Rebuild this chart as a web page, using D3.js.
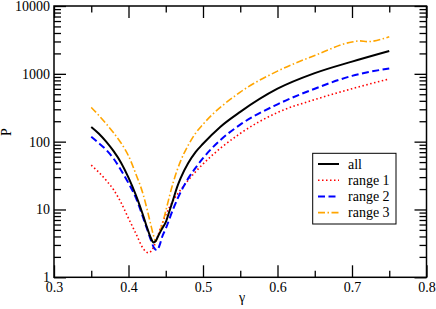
<!DOCTYPE html>
<html>
<head>
<meta charset="utf-8">
<script src="https://cdn.jsdelivr.net/npm/d3@7"></script>
<style>
  body { margin: 0; background: #fff; }
  svg text { font-family: "Liberation Serif", "DejaVu Serif", "Times New Roman", serif; }
</style>
</head>
<body>
<div id="canvas"></div>
<script>
// values
const gammaAll = [0.35, 0.36, 0.37, 0.38, 0.39, 0.40, 0.41, 0.42, 0.425, 0.43, 0.4335, 0.437, 0.44, 0.445, 0.45, 0.455, 0.46, 0.465, 0.47, 0.48, 0.49, 0.5, 0.5231, 0.55, 0.6, 0.65, 0.7, 0.75];
const pAll =     [165, 132, 100, 72.4, 49, 29.5, 16.2, 7.94, 5.37, 3.8, 3.25, 3.5, 4.1, 5.2, 6.5, 9.5, 14, 21, 29, 48, 70, 93, 165, 275, 603, 1023, 1514, 2170];

const gammaR1 = [0.35, 0.36, 0.37, 0.38, 0.39, 0.40, 0.41, 0.42, 0.4267, 0.435, 0.44, 0.445, 0.45, 0.46, 0.47, 0.48, 0.49, 0.5, 0.55, 0.6, 0.65, 0.7, 0.75];
const pR1 =     [45, 35.5, 26.9, 19.5, 12.6, 7.4, 4.4, 2.63, 2.29, 3.0, 4.3, 6.1, 8.3, 13.5, 19.5, 26.9, 36, 46.8, 132, 269, 417, 603, 841];

const gammaR2 = [0.35, 0.36, 0.37, 0.38, 0.39, 0.40, 0.41, 0.42, 0.425, 0.43, 0.434, 0.438, 0.4425, 0.445, 0.45, 0.46, 0.47, 0.48, 0.49, 0.5, 0.5231, 0.55, 0.6, 0.65, 0.7, 0.75];
const pR2 =     [118, 95.5, 75.9, 56.2, 38, 24.5, 14.8, 7.4, 5.13, 3.55, 2.75, 2.51, 3.14, 3.9, 5.2, 10.2, 18, 28.5, 41, 57, 105, 178, 355, 603, 933, 1200];

const gammaR3 = [0.35, 0.36, 0.37, 0.38, 0.39, 0.40, 0.41, 0.42, 0.425, 0.43, 0.4335, 0.4365, 0.44, 0.445, 0.45, 0.46, 0.47, 0.48, 0.49, 0.5, 0.55, 0.6, 0.65, 0.7, 0.711, 0.72, 0.75];
const pR3 =     [320, 245, 184, 135, 95.5, 61.7, 33.1, 16.2, 10, 5.9, 4.17, 3.4, 4.2, 5.8, 9.5, 25, 52, 88, 133, 180, 537, 1096, 1866, 2950, 3060, 2980, 3524];

const xMajor = [0.3, 0.4, 0.5, 0.6, 0.7, 0.8];
const xMinor = [0.35, 0.45, 0.55, 0.65, 0.75];
const yMajor = [1, 10, 100, 1000, 10000];

const seriesNames = ['all', 'range 1', 'range 2', 'range 3'];

const w = 436;
const h = 309;
const padLeft = 54, padRight = 426.5, padTop = 6, padBottom = 277.3;
const serif = '"Liberation Serif", "DejaVu Serif", serif';

const xScale = d3.scaleLinear().domain([0.3, 0.8]).range([padLeft, padRight]);
const yScale = d3.scaleLog().domain([1, 10000]).range([padBottom, padTop]);

const yMinor = [];
for (let k = 0; k < 4; k++) {
	for (let m = 2; m < 10; m++) yMinor.push(m * Math.pow(10, k));
}

const svg = d3.select('#canvas')
	.append('svg')
	.attr('width', w)
	.attr('height', h)
	.attr('font-family', serif);

const series = [
	{ name: seriesNames[0], g: gammaAll, p: pAll, color: '#000000', dash: null, width: 2 },
	{ name: seriesNames[1], g: gammaR1, p: pR1, color: '#ff0000', dash: '1.5,2.5', width: 1.6 },
	{ name: seriesNames[2], g: gammaR2, p: pR2, color: '#0000ff', dash: '7,3.5', width: 2 },
	{ name: seriesNames[3], g: gammaR3, p: pR3, color: '#ffa500', dash: '7,2.5,1.5,2.5', width: 1.6 }
];

const line = d3.line()
	.x(d => xScale(d[0]))
	.y(d => yScale(d[1]))
	.curve(d3.curveMonotoneX);

// draw the range curves first, black one on top
[1, 2, 3, 0].forEach(i => {
	const s = series[i];
	svg.append('path')
		.datum(s.g.map((g, j) => [g, s.p[j]]))
		.attr('d', line)
		.attr('fill', 'none')
		.attr('stroke', s.color)
		.attr('stroke-width', s.width)
		.attr('stroke-dasharray', s.dash);
});

function tickAxis(axis, transform, values, size, labels) {
	const g = svg.append('g')
		.attr('transform', transform)
		.call(axis.tickValues(values).tickSize(-size).tickSizeOuter(0)
			.tickPadding(labels ? 5 : 0)
			.tickFormat(labels ? labels : ''));
	g.attr('font-family', serif).attr('font-size', 14);
	g.select('.domain').remove();
	g.selectAll('line').attr('stroke', '#000').attr('stroke-width', 1.3);
	g.selectAll('text').attr('fill', '#000');
	return g;
}

const fmtX = d => d3.format('.1f')(d);
const fmtY = d => String(d);

// bottom and top
tickAxis(d3.axisBottom(xScale), 'translate(0,' + padBottom + ')', xMajor, 12, fmtX);
tickAxis(d3.axisBottom(xScale), 'translate(0,' + padBottom + ')', xMinor, 6.5, null);
tickAxis(d3.axisTop(xScale), 'translate(0,' + padTop + ')', xMajor, 12, null);
tickAxis(d3.axisTop(xScale), 'translate(0,' + padTop + ')', xMinor, 6.5, null);
// left and right
tickAxis(d3.axisLeft(yScale), 'translate(' + padLeft + ',0)', yMajor, 12, fmtY)
	.selectAll('text').attr('x', -4);
tickAxis(d3.axisLeft(yScale), 'translate(' + padLeft + ',0)', yMinor, 7, null);
tickAxis(d3.axisRight(yScale), 'translate(' + padRight + ',0)', yMajor, 12, null);
tickAxis(d3.axisRight(yScale), 'translate(' + padRight + ',0)', yMinor, 7, null);

svg.append('rect')
	.attr('x', padLeft)
	.attr('y', padTop)
	.attr('width', padRight - padLeft)
	.attr('height', padBottom - padTop)
	.attr('fill', 'none')
	.attr('stroke', '#000')
	.attr('stroke-width', 1.5);

svg.append('text')
	.attr('x', 242)
	.attr('y', 302)
	.attr('text-anchor', 'middle')
	.attr('font-size', 14)
	.text('γ');

svg.append('text')
	.attr('transform', 'translate(11, 132) rotate(-90)')
	.attr('text-anchor', 'middle')
	.attr('font-size', 14)
	.text('P');

// legend
const legend = svg.append('g');
legend.append('rect')
	.attr('x', 312.7)
	.attr('y', 153.3)
	.attr('width', 83.3)
	.attr('height', 70.7)
	.attr('fill', '#fff')
	.attr('stroke', '#000')
	.attr('stroke-width', 1);

series.forEach((s, i) => {
	const y = 164 + i * 16.2;
	legend.append('line')
		.attr('x1', 318)
		.attr('x2', 339)
		.attr('y1', y)
		.attr('y2', y)
		.attr('stroke', s.color)
		.attr('stroke-width', s.width)
		.attr('stroke-dasharray', s.dash);
	legend.append('text')
		.attr('x', 348)
		.attr('y', y + 4.5)
		.attr('font-size', 14)
		.text(s.name);
});
</script>
</body>
</html>
